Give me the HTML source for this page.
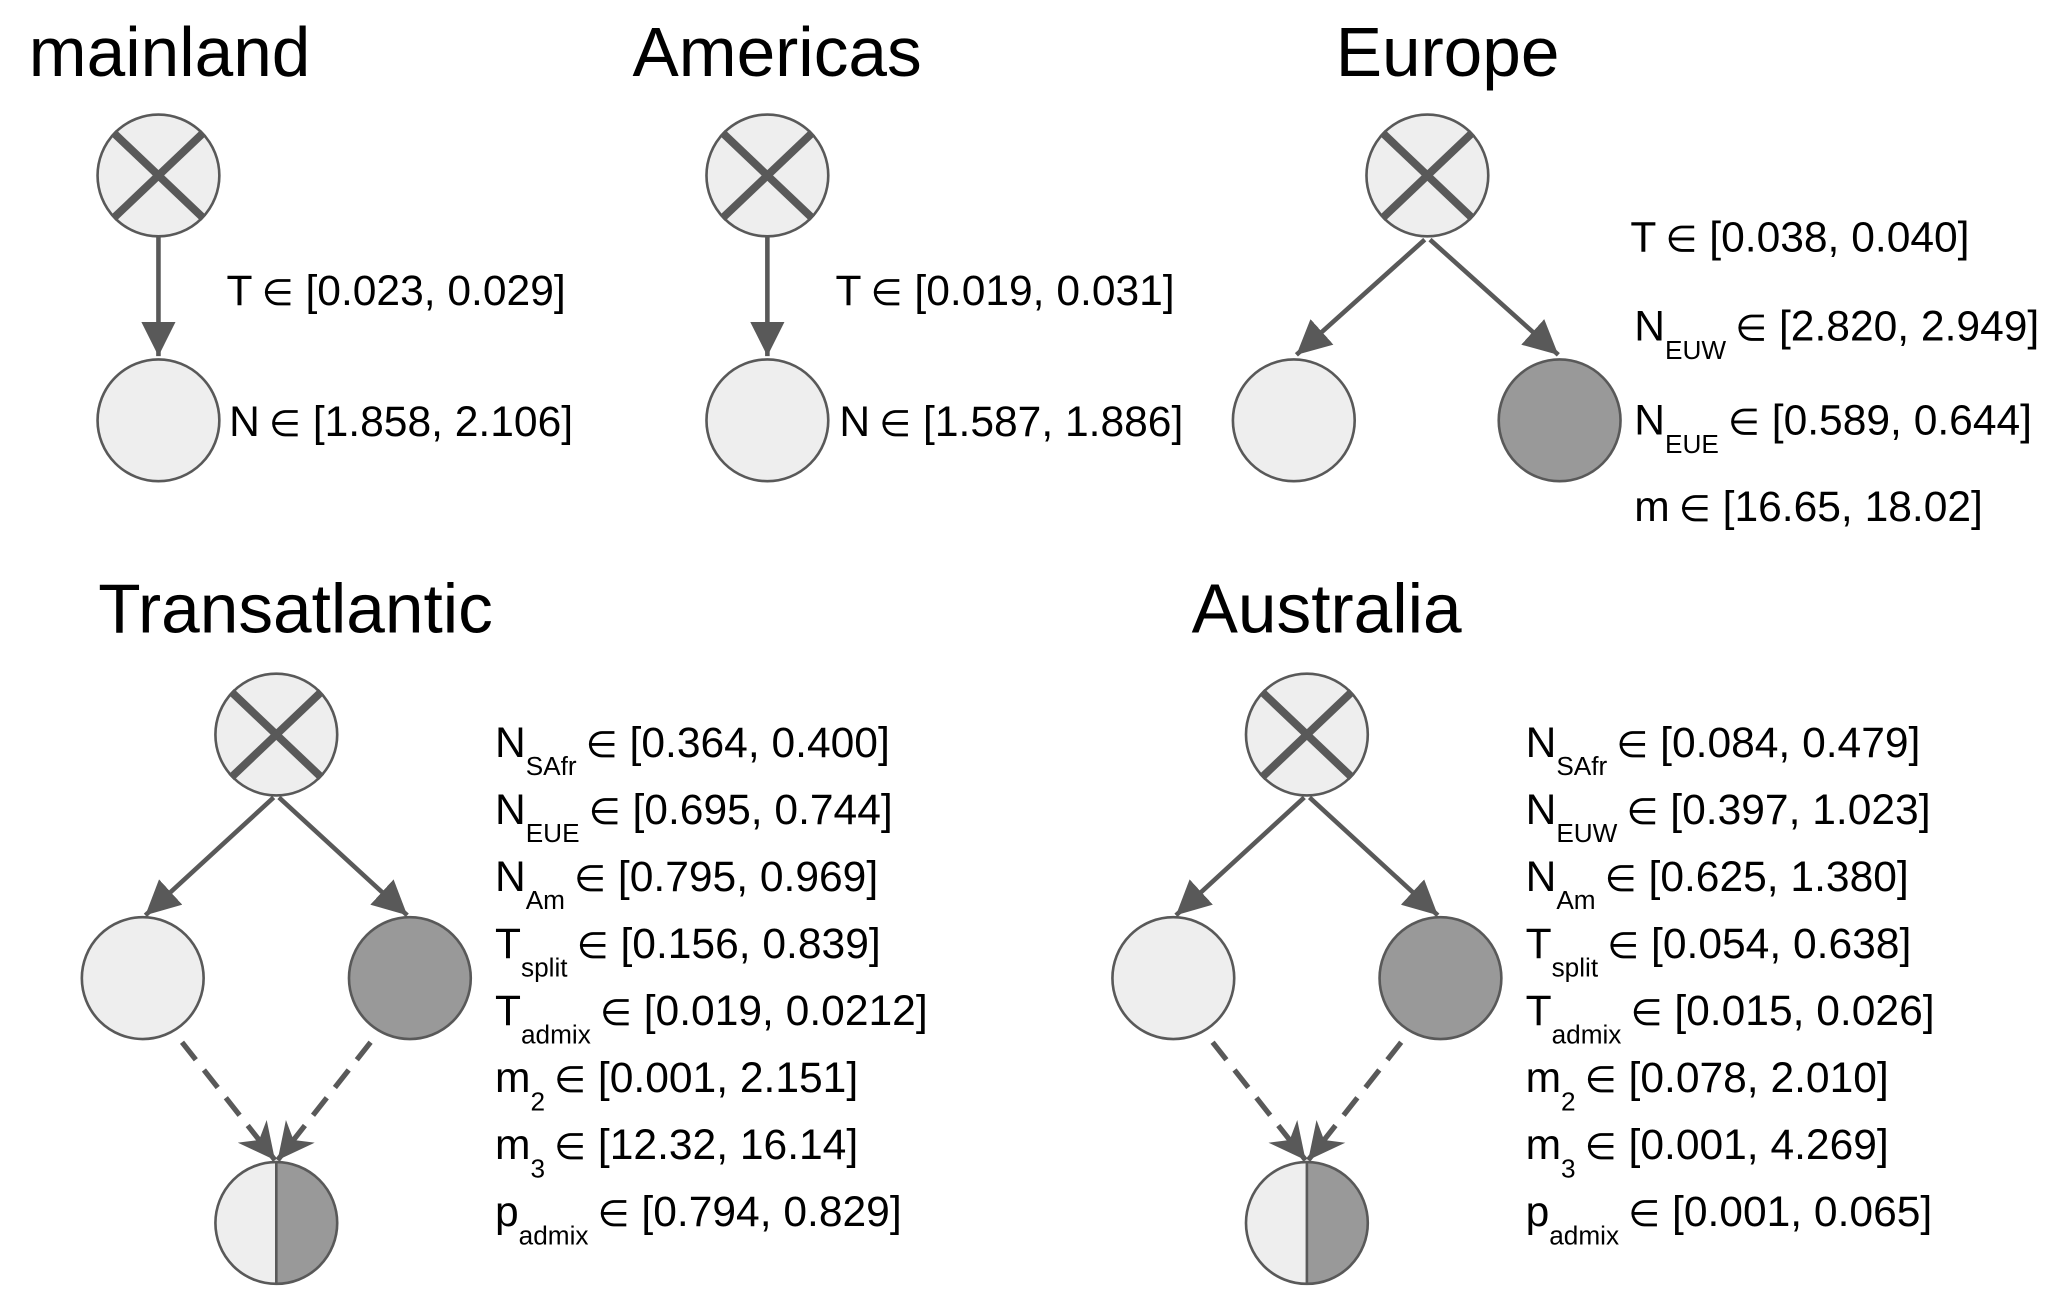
<!DOCTYPE html>
<html><head><meta charset="utf-8"><style>
html,body{margin:0;padding:0;background:#fff;}
svg{display:block;}
text{font-family:"Liberation Sans",Arial,sans-serif;fill:#000;}
</style></head>
<body>
<svg id="fig" width="2052" height="1295" viewBox="0 0 1567 989" preserveAspectRatio="none" xmlns="http://www.w3.org/2000/svg">
<defs>
<marker id="ah" viewBox="0 0 10 10" refX="10" refY="5" markerWidth="7.5" markerHeight="7.5" markerUnits="strokeWidth" orient="auto">
<path d="M0,0 L10,5 L0,10 z" fill="#595959"/>
</marker>
<marker id="ah2" viewBox="0 0 10 10" refX="10" refY="5" markerWidth="7" markerHeight="7" markerUnits="strokeWidth" orient="auto">
<path d="M0,0 L10,5 L0,10 L3,5 z" fill="#595959"/>
</marker>
</defs>
</svg>
<script>
const NS="http://www.w3.org/2000/svg";
const svg=document.getElementById('fig');
const STROKE="#595959", LIGHT="#eeeeee", DARK="#999999";
function mk(tag,attrs,parent){const e=document.createElementNS(NS,tag);for(const k in attrs)e.setAttribute(k,attrs[k]);(parent||svg).appendChild(e);return e;}

function title(x,y,t,name){
  const e=mk('text',{x:x,y:y,'font-size':53});
  e.textContent=t;
  
  
}
function node(cx,cy,kind,name){
  const g=mk('g',{});
  
  
  const r=46.5;
  if(kind==='half'){
    mk('path',{d:`M${cx},${cy-r} A${r},${r} 0 0 0 ${cx},${cy+r} Z`,fill:LIGHT},g);
    mk('path',{d:`M${cx},${cy-r} A${r},${r} 0 0 1 ${cx},${cy+r} Z`,fill:DARK},g);
    mk('circle',{cx:cx,cy:cy,r:r,fill:'none',stroke:STROKE,'stroke-width':2},g);
    mk('line',{x1:cx,y1:cy-r,x2:cx,y2:cy+r,stroke:STROKE,'stroke-width':2},g);
  } else {
    mk('circle',{cx:cx,cy:cy,r:r,fill:kind==='dark'?DARK:LIGHT,stroke:STROKE,'stroke-width':2},g);
    if(kind==='root'){
      const d=r*0.74;
      mk('line',{x1:cx-d,y1:cy-d*0.95,x2:cx+d,y2:cy+d*0.95,stroke:STROKE,'stroke-width':6},g);
      mk('line',{x1:cx+d,y1:cy-d*0.95,x2:cx-d,y2:cy+d*0.95,stroke:STROKE,'stroke-width':6},g);
    }
  }
}
function edge(x1,y1,x2,y2,dashed,name){
  const a={x1:x1,y1:y1,x2:x2,y2:y2,stroke:STROKE,'stroke-width':dashed?4:3.5,'marker-end':dashed?'url(#ah2)':'url(#ah)'};
  if(dashed)a['stroke-dasharray']='17,10';
  const e=mk('line',a);
  
  
}
function label(x,y,main,sub,rest,name){
  const t=mk('text',{x:x,y:y,'font-size':32.5});
  
  
  const s1=mk('tspan',{},t);s1.textContent=main;
  let first;
  if(sub){
    const s2=mk('tspan',{dy:14,'font-size':20},t);s2.textContent=sub;
    first=mk('tspan',{dy:-14,dx:7,'font-size':28},t);
  } else {
    first=mk('tspan',{dx:7,'font-size':28},t);
  }
  first.textContent='∈';
  const s3=mk('tspan',{},t);s3.textContent=' '+rest;
}

// mainland
title(22,58,'mainland','title-mainland');
node(121,134,'root','mainland-root-node');
node(121,321,'light','mainland-population-node');
edge(121,181,121,272,false,'mainland-arrow');
label(173,233,'T','', '[0.023, 0.029]','mainland-T-label');
label(175,333,'N','', '[1.858, 2.106]','mainland-N-label');

// Americas
title(483,58,'Americas','title-americas');
node(586,134,'root','americas-root-node');
node(586,321,'light','americas-population-node');
edge(586,181,586,272,false,'americas-arrow');
label(638,233,'T','', '[0.019, 0.031]','americas-T-label');
label(641,333,'N','', '[1.587, 1.886]','americas-N-label');

// Europe
title(1020,58,'Europe','title-europe');
node(1090,134,'root','europe-root-node');
node(988,321,'light','europe-west-node');
node(1191,321,'dark','europe-east-node');
edge(1088,183,990,271,false,'europe-arrow-west');
edge(1092,183,1190,271,false,'europe-arrow-east');
label(1245,192,'T','', '[0.038, 0.040]','europe-T-label');
label(1248,260,'N','EUW','[2.820, 2.949]','europe-NEUW-label');
label(1248,332,'N','EUE','[0.589, 0.644]','europe-NEUE-label');
label(1248,398,'m','', '[16.65, 18.02]','europe-m-label');

// Transatlantic & Australia
function admixPanel(ox,lx,tt,tname,labels,pref){
  title(tt.x,483,tt.t,tname);
  node(ox,561,'root',pref+'-root-node');
  node(ox-102,747,'light',pref+'-left-node');
  node(ox+102,747,'dark',pref+'-right-node');
  node(ox,934,'half',pref+'-admixed-node');
  edge(ox-2,609,ox-100,699,false,pref+'-arrow-left');
  edge(ox+2,609,ox+100,699,false,pref+'-arrow-right');
  edge(ox-72,796,ox-1,886,true,pref+'-dashed-arrow-left');
  edge(ox+72,796,ox+1,886,true,pref+'-dashed-arrow-right');
  labels.forEach((l,i)=>label(lx,578+i*51.2,l[0],l[1],l[2],pref+'-label-'+(l[0]+l[1]).toLowerCase()));
}
admixPanel(211,378,{x:75,t:'Transatlantic'},'title-transatlantic',[
 ['N','SAfr','[0.364, 0.400]'],['N','EUE','[0.695, 0.744]'],['N','Am','[0.795, 0.969]'],
 ['T','split','[0.156, 0.839]'],['T','admix','[0.019, 0.0212]'],['m','2','[0.001, 2.151]'],
 ['m','3','[12.32, 16.14]'],['p','admix','[0.794, 0.829]']],'transatlantic');
admixPanel(998,1165,{x:910,t:'Australia'},'title-australia',[
 ['N','SAfr','[0.084, 0.479]'],['N','EUW','[0.397, 1.023]'],['N','Am','[0.625, 1.380]'],
 ['T','split','[0.054, 0.638]'],['T','admix','[0.015, 0.026]'],['m','2','[0.078, 2.010]'],
 ['m','3','[0.001, 4.269]'],['p','admix','[0.001, 0.065]']],'australia');
</script>
</body></html>
